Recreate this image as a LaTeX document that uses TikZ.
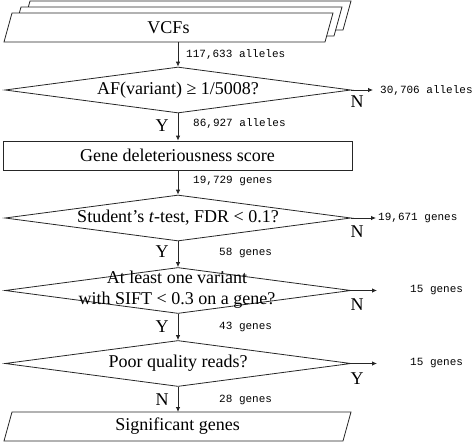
\documentclass[tikz,border=0pt]{standalone}
\usepackage{fontspec}
\setmainfont{Liberation Serif}
\setmonofont{Liberation Mono}
\usetikzlibrary{arrows.meta,shapes.geometric,calc}
\begin{document}
\begin{tikzpicture}[x=1pt,y=-1pt,
  line/.style={draw=black!85, line width=0.8pt},
  arr/.style={line, -{Latex[length=5pt,width=4.5pt]}},
  main/.style={font=\fontsize{18}{21}\selectfont, inner sep=0pt, align=center},
  cnt/.style={font=\fontsize{11}{13}\selectfont\ttfamily, inner sep=0pt, anchor=west},
  yn/.style={font=\fontsize{18}{21}\selectfont, inner sep=0pt},
  diam/.style={diamond, line, inner sep=0pt, minimum width=346pt, minimum height=46pt},
  outline/.style={line, fill=white, line join=miter},
]
\useasboundingbox (0,0) rectangle (472,442);

% stacked VCF sheets
\draw[outline] (30,1) -- (351,1) -- (343,30) -- (22,30) -- cycle;
\draw[outline] (21,7) -- (342,7) -- (334,36) -- (13,36) -- cycle;
\draw[outline] (12,13) -- (333,13) -- (325,42) -- (4,42) -- cycle;
\node[main] (vcf) at (168.5,27.5) {VCFs};
\coordinate (vcfb) at (178,42);

% decisions and boxes
\node[diam] (d1) at (178,90) {};
\node[main] (d1t) at (d1.center) {AF(variant) ≥ 1/5008?};

\node[line, minimum width=349pt, minimum height=29pt, inner sep=0pt, font=\fontsize{18}{21}\selectfont] (box) at (177.5,155.5) {Gene deleteriousness score};

\node[diam] (d2) at (178,218) {};
\node[main] (d2t) at (d2.center) {Student’s \textit{t}-test, FDR < 0.1?};

\node[diam] (d3) at (178,290.5) {};
\node[main] (d3t) at (177,290) {At least one variant\\with SIFT < 0.3 on a gene?};

\node[diam] (d4) at (178,363.5) {};
\node[main] (d4t) at (d4.center) {Poor quality reads?};

\draw[outline] (12,412) -- (351,412) -- (343,441) -- (4,441) -- cycle;
\node[main] (sig) at (177.5,426.5) {Significant genes};
\coordinate (sigt) at (178,412);

% main flow
\draw[arr] (vcfb) -- (d1.north);
\draw[arr] (d1.south) -- (d1.south |- box.north);
\draw[arr] (d1.south |- box.south) -- (d2.north);
\draw[arr] (d2.south) -- (d3.north);
\draw[arr] (d3.south) -- (d4.north);
\draw[arr] (d4.south) -- (sigt);

% side exits
\coordinate (e1) at (373,90);
\coordinate (e2) at (376,218);
\coordinate (e3) at (377,290.5);
\coordinate (e4) at (377,363.5);
\draw[arr] (d1.east) -- (e1);
\draw[arr] (d2.east) -- (e2);
\draw[arr] (d3.east) -- (e3);
\draw[arr] (d4.east) -- (e4);

% counts
\node[cnt] (c0) at (186,54) {117,633 alleles};
\node[cnt] (c1) at (193,123) {86,927 alleles};
\node[cnt] (c2) at (193,181) {19,729 genes};
\node[cnt] (c3) at (219,253) {58 genes};
\node[cnt] (c4) at (219,327) {43 genes};
\node[cnt] (c5) at (219,400) {28 genes};
\node[cnt] (r1) at (380,90) {30,706 alleles};
\node[cnt] (r2) at (378,218) {19,671 genes};
\node[cnt] (r3) at (410,290.5) {15 genes};
\node[cnt] (r4) at (410,363.5) {15 genes};

% Y / N
\node[yn] (y1) at (162,126) {Y};
\node[yn] (y2) at (162,252) {Y};
\node[yn] (y3) at (162,327) {Y};
\node[yn] (n4) at (162,400) {N};
\node[yn] (n1) at (357,102) {N};
\node[yn] (n2) at (357,232) {N};
\node[yn] (n3) at (357,305) {N};
\node[yn] (y4) at (357,379) {Y};
\end{tikzpicture}
\end{document}
